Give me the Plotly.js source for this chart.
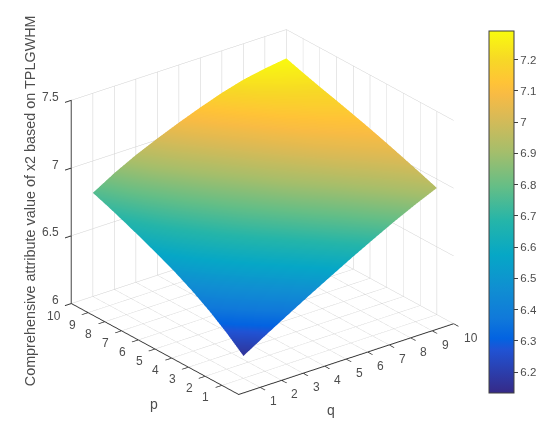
<!DOCTYPE html>
<html>
<head>
<meta charset="utf-8">
<script src="https://cdn.plot.ly/plotly-3.0.1.min.js"></script>
<style>html,body{margin:0;padding:0;background:#fff}#plot{width:550px;height:434px}</style>
</head>
<body>
<div id="plot"></div>
<script>
var qVals = [1, 2, 3, 4, 5, 6, 7, 8, 9, 10];
var pVals = [1, 2, 3, 4, 5, 6, 7, 8, 9, 10];

// one row per p
var zVals = [
    [6.165, 6.261, 6.354, 6.446, 6.535, 6.623, 6.707, 6.789, 6.865, 6.935],
    [6.267, 6.361, 6.448, 6.535, 6.618, 6.700, 6.777, 6.852, 6.919, 6.980],
    [6.357, 6.448, 6.533, 6.614, 6.692, 6.769, 6.840, 6.909, 6.969, 7.023],
    [6.435, 6.524, 6.607, 6.686, 6.760, 6.833, 6.899, 6.964, 7.017, 7.065],
    [6.503, 6.592, 6.674, 6.750, 6.821, 6.891, 6.955, 7.014, 7.063, 7.105],
    [6.563, 6.652, 6.732, 6.807, 6.876, 6.944, 7.005, 7.061, 7.106, 7.142],
    [6.618, 6.708, 6.788, 6.861, 6.929, 6.993, 7.053, 7.105, 7.147, 7.178],
    [6.670, 6.760, 6.840, 6.913, 6.979, 7.041, 7.098, 7.149, 7.185, 7.212],
    [6.720, 6.812, 6.893, 6.964, 7.028, 7.089, 7.145, 7.192, 7.226, 7.249],
    [6.765, 6.859, 6.940, 7.010, 7.075, 7.135, 7.190, 7.235, 7.265, 7.288]
];

var zTicks = [6, 6.5, 7, 7.5];
var zTickText = ['6', '6.5', '7', '7.5'];
var barTicks = [6.2, 6.3, 6.4, 6.5, 6.6, 6.7, 6.8, 6.9, 7, 7.1, 7.2];
var barTickText = ['6.2', '6.3', '6.4', '6.5', '6.6', '6.7', '6.8', '6.9', '7', '7.1', '7.2'];
var zTitle = 'Comprehensive attribute value of x2 based on TPLGWHM';

var parula = [
    [0, 'rgb(54,42,135)'],
    [0.12, 'rgb(32,83,212)'],
    [0.15, 'rgb(3,99,225)'],
    [0.206, 'rgb(16,121,218)'],
    [0.286, 'rgb(16,142,210)'],
    [0.381, 'rgb(6,167,198)'],
    [0.476, 'rgb(37,181,169)'],
    [0.571, 'rgb(101,190,134)'],
    [0.667, 'rgb(165,190,107)'],
    [0.762, 'rgb(217,186,86)'],
    [0.825, 'rgb(248,187,68)'],
    [0.857, 'rgb(255,195,55)'],
    [0.921, 'rgb(247,216,38)'],
    [1, 'rgb(249,251,14)']
];

var txt = '#4d4d4d';
var fontName = '"Liberation Sans", Arial, sans-serif';

var surf = {
    type: 'surface',
    x: qVals,
    y: pVals,
    z: zVals,
    colorscale: parula,
    cmin: 6.133,
    cmax: 7.292,
    hoverinfo: 'skip',
    lighting: {ambient: 1, diffuse: 0, specular: 0, fresnel: 0, roughness: 1},
    colorbar: {
        thickness: 25,
        lenmode: 'pixels',
        len: 362,
        x: 489 / 550,
        xanchor: 'left',
        y: (434 - 31) / 434,
        yanchor: 'top',
        xpad: 0,
        ypad: 0,
        outlinecolor: '#404040',
        outlinewidth: 1,
        tickmode: 'array',
        tickvals: barTicks,
        ticktext: barTickText,
        ticks: 'outside',
        ticklen: 4,
        tickcolor: '#404040',
        tickfont: {family: fontName, size: 11.5, color: txt}
    }
};

// tick labels and titles as annotations, the gl ones can't be placed like matlab's
var notes = [];
function note(x, y, z, text, dx, dy, size, angle, anchor) {
    notes.push({x: x, y: y, z: z, text: text, showarrow: false, xshift: dx, yshift: dy,
        textangle: angle || 0, xanchor: anchor || 'center',
        font: {family: fontName, size: size || 12, color: txt}});
}
qVals.forEach(function (q) { note(q, 0, 6, String(q), q == 10 ? 17 : 13, -14); });
pVals.forEach(function (p) { note(0, p, 6, String(p), p == 10 ? -17 : -16, -12); });
zTicks.forEach(function (z, i) { note(0, 10, z, zTickText[i], -10, 3.5, 12, 0, 'right'); });
note(5, 0, 6, 'q', -15, -51, 14);
note(0, 5, 6, 'p', -1, -55, 14);
note(0, 10, 6.75, zTitle, -41, 1, 14.4, -90);

function axis(range, extra) {
    var a = {
        range: range,
        title: {text: ''},
        showticklabels: false,
        showbackground: false,
        showspikes: false,
        gridcolor: '#cfcfcf',
        gridwidth: 1,
        zeroline: false,
        showline: true,
        linecolor: '#333333',
        linewidth: 2,
        ticks: 'outside',
        ticklen: 8,
        tickcolor: '#333333',
        tickwidth: 2
    };
    for (var k in extra) a[k] = extra[k];
    return a;
}

var layout = {
    width: 550,
    height: 434,
    margin: {l: 0, r: 0, t: 0, b: 0},
    paper_bgcolor: '#fff',
    showlegend: false,
    scene: {
        domain: {x: [0, 525 / 550], y: [10 / 434, 1]},
        aspectmode: 'manual',
        aspectratio: {x: 1.285, y: 1.285, z: 1.058},
        camera: {
            up: {x: 0, y: 0, z: 1},
            center: {x: 0, y: 0, z: 0},
            eye: {x: -1.0, y: -1.285, z: 0.76},
            projection: {type: 'orthographic'}
        },
        xaxis: axis([0, 10], {tickvals: qVals}),
        yaxis: axis([0, 10], {tickvals: pVals}),
        zaxis: axis([6, 7.5], {tickvals: zTicks, linecolor: '#777777', linewidth: 3}),
        annotations: notes
    }
};

Plotly.newPlot('plot', [surf], layout, {displayModeBar: false});
</script>
</body>
</html>
